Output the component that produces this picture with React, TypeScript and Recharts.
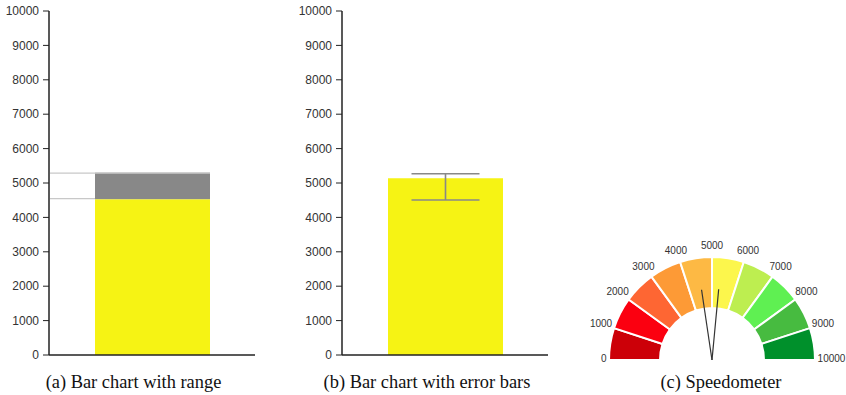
import React from 'react';
import { BarChart, Bar, XAxis, YAxis, ErrorBar, PieChart, Pie, Cell } from 'recharts';

// ---- data ----
const rangeCategories = ['Range'];
const rangeLow = [4530];
const rangeHigh = [5300];

const errorCategories = ['Value'];
const errorValues = [5140];
const errorLow = [4505];
const errorHigh = [5270];

const yTicks = [0, 1000, 2000, 3000, 4000, 5000, 6000, 7000, 8000, 9000, 10000];

const gaugeTicks = [0, 1000, 2000, 3000, 4000, 5000, 6000, 7000, 8000, 9000, 10000];
const gaugeColors = ['#cc0008', '#fb0010', '#fe6633', '#fd9a36', '#fdb944', '#fcf64c', '#bdee50', '#5ff052', '#47bb40', '#00902b'];
const gaugeMax = 10000;
const needleLow = 4530;
const needleHigh = 5300;

const captions = ['(a) Bar chart with range', '(b) Bar chart with error bars', '(c) Speedometer'];

// ---- derived tables ----
const rangeData = rangeCategories.map((name, i) => ({
  name,
  range: [rangeLow[i], rangeHigh[i]],
  base: rangeLow[i],
  extra: rangeHigh[i] - rangeLow[i],
}));

const errorData = errorCategories.map((name, i) => ({
  name,
  value: errorValues[i],
  err: [errorValues[i] - errorLow[i], errorHigh[i] - errorValues[i]],
}));

const gaugeData = gaugeTicks.slice(0, -1).map((t, i) => ({ name: `${t}`, value: gaugeTicks[i + 1] - t }));
const gaugeTickData = gaugeTicks.map((t) => ({ name: `${t}`, value: 1 }));
const needleData = [
  { name: 'low', value: needleLow },
  { name: 'range', value: needleHigh - needleLow },
  { name: 'rest', value: gaugeMax - needleHigh },
];

const FONT = '"Liberation Sans", Arial, sans-serif';
const axisTick = { fill: '#333', fontSize: 12, fontFamily: FONT };

const RangeShape = (p: any) => (
  <g>
    <line x1={p.x} x2={p.x + p.width} y1={p.y + 0.5} y2={p.y + 0.5} stroke="#c8c8c8" strokeWidth={1.2} />
    <line x1={p.x} x2={p.x + p.width} y1={p.y + p.height - 0.5} y2={p.y + p.height - 0.5} stroke="#c8c8c8" strokeWidth={1.2} />
  </g>
);

const GrayShape = (p: any) => (
  <g>
    <rect x={p.x} y={p.y} width={p.width} height={p.height} fill="#888888" />
    <line x1={p.x} x2={p.x + p.width} y1={p.y + 0.5} y2={p.y + 0.5} stroke="#c8c8c8" strokeWidth={1.2} />
  </g>
);

const renderTickLabel = (p: any) => {
  const a = (p.midAngle * Math.PI) / 180;
  const text = gaugeTickData[p.index].name;
  const w = text.length * 5.6;
  const h = 10;
  const R = p.outerRadius + 2.5;
  const x = p.cx + R * Math.cos(a) + (Math.cos(a) * w) / 2;
  const y = p.cy - (R + 2.5) * Math.sin(a) - (Math.sin(a) * h) / 2 - 2;
  return (
    <text key={`t${p.index}`} x={x} y={y} textAnchor="middle" dominantBaseline="central" fill="#333" fontSize={10} fontFamily={FONT}>
      {text}
    </text>
  );
};

const renderNeedle = (p: any) => {
  if (p.index > 1) return <g key={`n${p.index}`} />;
  const a = (p.endAngle * Math.PI) / 180;
  return (
    <line
      key={`n${p.index}`}
      x1={p.cx}
      y1={p.cy}
      x2={p.cx + p.outerRadius * Math.cos(a)}
      y2={p.cy - p.outerRadius * Math.sin(a)}
      stroke="#333"
      strokeWidth={1.2}
    />
  );
};

const captionStyle = (center: number): React.CSSProperties => ({
  position: 'absolute',
  left: center - 150,
  width: 300,
  top: 372,
  height: 20,
  lineHeight: '20px',
  textAlign: 'center',
  fontFamily: '"Liberation Serif", "Times New Roman", serif',
  fontSize: 18.4,
  color: '#111',
  whiteSpace: 'nowrap',
});

export default function App() {
  return (
    <div style={{ position: 'absolute', left: 0, top: 0, width: 846, height: 395, background: '#fff', overflow: 'hidden' }}>
      <div style={{ position: 'absolute', left: 0, top: 0 }}>
        <BarChart width={270} height={365} data={rangeData} margin={{ top: 11, right: 15, left: 0, bottom: 9 }} barGap={0}>
          <XAxis dataKey="name" height={1} tick={false} tickLine={false} axisLine={{ stroke: '#222', strokeWidth: 1.5 }} padding={{ left: 0, right: 45 }} />
          <YAxis
            width={49}
            domain={[0, 10000]}
            ticks={yTicks}
            interval={0}
            tick={axisTick}
            tickSize={6}
            tickMargin={4}
            axisLine={{ stroke: '#222', strokeWidth: 1.5 }}
            tickLine={{ stroke: '#222' }}
          />
          <Bar dataKey="range" stackId="r" barSize={45} shape={RangeShape} isAnimationActive={false} />
          <Bar dataKey="base" stackId="s" barSize={115} fill="#f6f314" isAnimationActive={false} />
          <Bar dataKey="extra" stackId="s" barSize={115} shape={GrayShape} isAnimationActive={false} />
        </BarChart>
      </div>

      <div style={{ position: 'absolute', left: 293, top: 0 }}>
        <BarChart width={270} height={365} data={errorData} margin={{ top: 11, right: 15, left: 0, bottom: 9 }}>
          <XAxis dataKey="name" height={1} tick={false} tickLine={false} axisLine={{ stroke: '#222', strokeWidth: 1.5 }} />
          <YAxis
            width={49}
            domain={[0, 10000]}
            ticks={yTicks}
            interval={0}
            tick={axisTick}
            tickSize={6}
            tickMargin={4}
            axisLine={{ stroke: '#222', strokeWidth: 1.5 }}
            tickLine={{ stroke: '#222' }}
            allowDataOverflow
          />
          <Bar dataKey="value" barSize={115} fill="#f6f314" isAnimationActive={false}>
            <ErrorBar dataKey="err" direction="y" width={34} stroke="#888" strokeWidth={1.6} />
          </Bar>
        </BarChart>
      </div>

      <div style={{ position: 'absolute', left: 566, top: 226 }}>
        <PieChart width={280} height={150} margin={{ top: 0, right: 0, bottom: 0, left: 0 }}>
          <Pie
            data={gaugeData}
            dataKey="value"
            cx={146}
            cy={134}
            startAngle={180}
            endAngle={0}
            innerRadius={52}
            outerRadius={103}
            stroke="#fff"
            strokeWidth={2}
            isAnimationActive={false}
          >
            {gaugeData.map((d, i) => (
              <Cell key={d.name} fill={gaugeColors[i]} />
            ))}
          </Pie>
          <Pie
            data={gaugeTickData}
            dataKey="value"
            cx={146}
            cy={134}
            startAngle={189}
            endAngle={-9}
            innerRadius={102}
            outerRadius={103}
            fill="none"
            stroke="none"
            label={renderTickLabel}
            labelLine={false}
            isAnimationActive={false}
          />
          <Pie
            data={needleData}
            dataKey="value"
            cx={146}
            cy={134}
            startAngle={180}
            endAngle={0}
            innerRadius={0}
            outerRadius={71}
            fill="none"
            stroke="none"
            label={renderNeedle}
            labelLine={false}
            isAnimationActive={false}
          />
        </PieChart>
      </div>

      <div style={captionStyle(133.5)}>{captions[0]}</div>
      <div style={captionStyle(427)}>{captions[1]}</div>
      <div style={captionStyle(721)}>{captions[2]}</div>
    </div>
  );
}
